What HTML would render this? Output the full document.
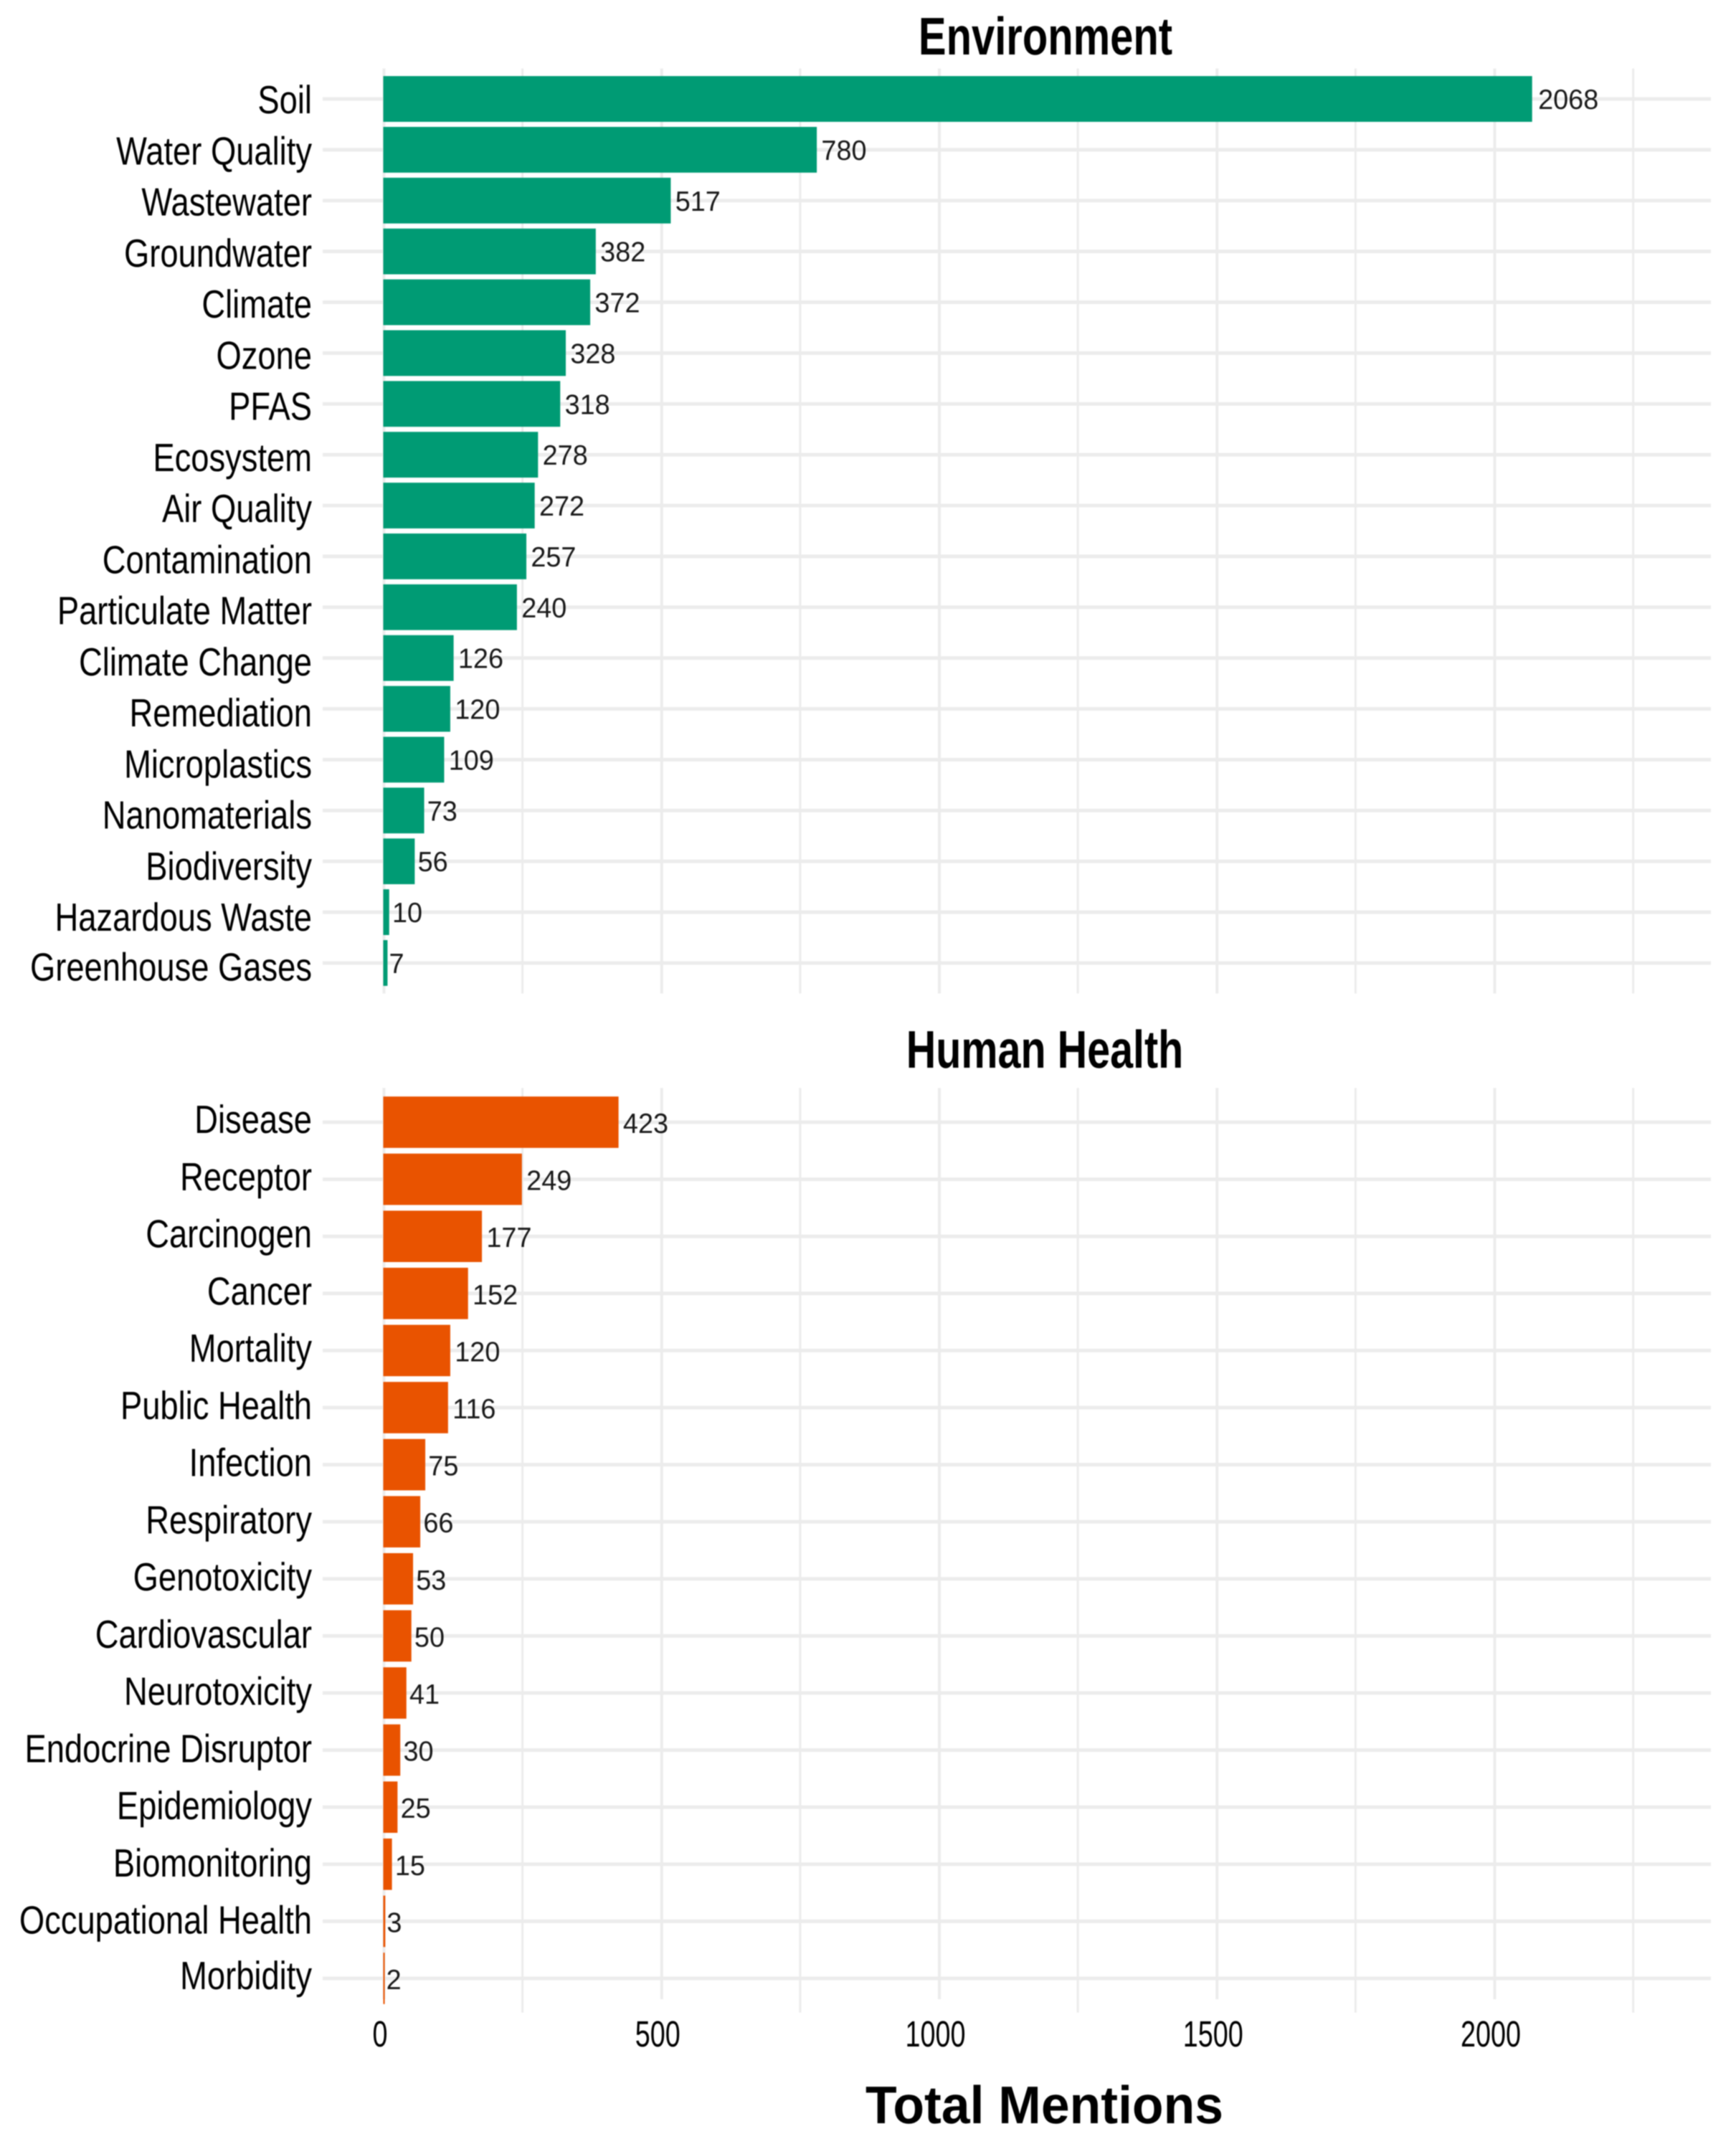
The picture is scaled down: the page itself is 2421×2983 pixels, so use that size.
<!DOCTYPE html>
<html lang="en">
<head>
<meta charset="utf-8">
<title>Total Mentions: Environment and Human Health</title>
<style>
  html, body { margin: 0; padding: 0; background: #fff; }
  body { width: 2421px; height: 2983px; overflow: hidden; }
  svg { display: block; filter: blur(0.7px); }
  text { font-family: "Liberation Sans", Arial, sans-serif; fill: #000; text-rendering: geometricPrecision; }
  .title { font-weight: 700; font-size: 74px; }
</style>
</head>
<body>
<svg id="chart" xmlns="http://www.w3.org/2000/svg" width="2421" height="2983" viewBox="0 0 2421 2983">
  <rect x="0" y="0" width="2421" height="2983" fill="#ffffff"/>
  <g id="panel-env"></g>
  <g id="panel-health"></g>
  <g id="x-axis"></g>
  <text class="title" text-anchor="middle" transform="translate(1458,76) scale(0.783,1)">Environment</text>
  <text class="title" text-anchor="middle" transform="translate(1457,1489) scale(0.777,1)">Human Health</text>
  <text class="title" text-anchor="middle" transform="translate(1456.5,2961) scale(0.966,1)">Total Mentions</text>
</svg>
<script>
const envCategories = ["Soil", "Water Quality", "Wastewater", "Groundwater", "Climate", "Ozone", "PFAS", "Ecosystem", "Air Quality", "Contamination", "Particulate Matter", "Climate Change", "Remediation", "Microplastics", "Nanomaterials", "Biodiversity", "Hazardous Waste", "Greenhouse Gases"];
const envValues = [2068, 780, 517, 382, 372, 328, 318, 278, 272, 257, 240, 126, 120, 109, 73, 56, 10, 7];
const healthCategories = ["Disease", "Receptor", "Carcinogen", "Cancer", "Mortality", "Public Health", "Infection", "Respiratory", "Genotoxicity", "Cardiovascular", "Neurotoxicity", "Endocrine Disruptor", "Epidemiology", "Biomonitoring", "Occupational Health", "Morbidity"];
const healthValues = [423, 249, 177, 152, 120, 116, 75, 66, 53, 50, 41, 30, 25, 15, 3, 2];
const xMajorTicks = [0, 500, 1000, 1500, 2000];
const xMinorTicks = [250, 750, 1250, 1750, 2250];

const NS = "http://www.w3.org/2000/svg";
const GRID = "#ececec";
const X0 = 535, X_SCALE = 0.7745;
const GRID_LEFT = 450, GRID_RIGHT = 2386;
const LABEL_FS = 39, LABEL_SX = 0.97;

function xPos(v) { return X0 + v * X_SCALE; }

function make(tag, attrs, parent, content) {
  const node = document.createElementNS(NS, tag);
  for (const k in attrs) node.setAttribute(k, attrs[k]);
  if (content !== undefined) node.textContent = content;
  parent.appendChild(node);
  return node;
}

function slug(s) { return s.toLowerCase().replace(/\s+/g, "-"); }

function drawPanel(parent, cats, vals, o) {
  const yCenter = i => o.firstRow + i * o.step;
  const panelTop = yCenter(0) - 0.6 * o.step;
  const panelBottom = yCenter(cats.length - 1) + 0.6 * o.step;

  xMinorTicks.forEach(t => {
    const el = make("rect", { x: xPos(t) - 1.5, y: panelTop, width: 3, height: panelBottom - panelTop, fill: GRID }, parent);
    
    
  });
  xMajorTicks.forEach(t => {
    const el = make("rect", { x: xPos(t) - 1.5, y: panelTop, width: 4, height: (o.majorBottom || panelBottom) - panelTop, fill: GRID }, parent);
    
    
  });
  cats.forEach((c, i) => {
    const el = make("rect", { x: GRID_LEFT, y: yCenter(i) - 2.5, width: GRID_RIGHT - GRID_LEFT, height: 5, fill: GRID }, parent);
    
    
  });
  cats.forEach((c, i) => {
    const h = o.step * 0.9;
    const barLeft = X0 - 0.5;
    const bar = make("rect", { x: barLeft, y: yCenter(i) - h / 2, width: xPos(vals[i]) - barLeft, height: h, fill: o.color }, parent);
    
    

    const textW = String(vals[i]).length * 0.556 * LABEL_FS * LABEL_SX;
    const lx = xPos(vals[i]) + 0.1 * textW;
    const ly = yCenter(i) + o.valueDy;
    const valueLabel = make("text", { "font-size": LABEL_FS, "fill-opacity": 0.9, transform: "translate(" + lx + "," + ly + ") scale(" + LABEL_SX + ",1)" }, parent, String(vals[i]));
    
    

    const isLast = i === cats.length - 1;
    const by = isLast
      ? o.labelFirst + (i - 1) * o.labelStep + o.labelLastStep
      : o.labelFirst + i * o.labelStep;
    const catLabel = make("text", { "font-size": 55, "text-anchor": "end", transform: "translate(435," + by + ") scale(0.824,1)" }, parent, c);
    
    
  });
}

drawPanel(document.getElementById("panel-env"), envCategories, envValues, {
  firstRow: 138, step: 70.88, color: "#009B74", valueDy: 14, labelFirst: 158, labelStep: 71.25, labelLastStep: 69.7
});
drawPanel(document.getElementById("panel-health"), healthCategories, healthValues, {
  firstRow: 1565, step: 79.6, color: "#E95300", valueDy: 15, labelFirst: 1580, labelStep: 79.76, labelLastStep: 77.3, majorBottom: 2788
});

const xAxisGroup = document.getElementById("x-axis");
xMajorTicks.forEach(t => {
  const el = make("text", { "font-size": 51, "text-anchor": "middle", transform: "translate(" + (xPos(t) - 5) + ",2854) scale(0.74,1)" }, xAxisGroup, String(t));
  
  
});
</script>
</body>
</html>
